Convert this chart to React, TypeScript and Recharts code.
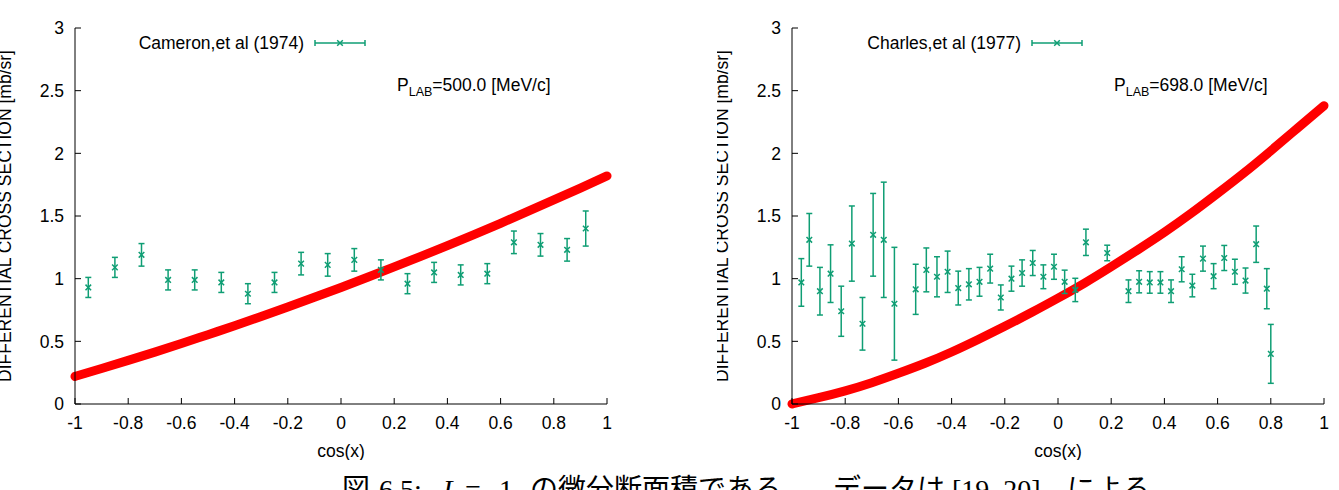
import { ComposedChart, Line, Scatter, ErrorBar, XAxis, YAxis, Legend } from 'recharts';

// axis ticks
const xTicks = [-1, -0.8, -0.6, -0.4, -0.2, 0, 0.2, 0.4, 0.6, 0.8, 1];
const yTicks = [0, 0.5, 1, 1.5, 2, 2.5, 3];

// theory curves at cos(x) = -1, -0.9, ... 1
const curveX = [-1, -0.9, -0.8, -0.7, -0.6, -0.5, -0.4, -0.3, -0.2, -0.1, 0, 0.1, 0.2, 0.3, 0.4, 0.5, 0.6, 0.7, 0.8, 0.9, 1];
const curve500 = [0.22, 0.283, 0.348, 0.414, 0.482, 0.553, 0.624, 0.698, 0.774, 0.851, 0.93, 1.011, 1.094, 1.178, 1.264, 1.352, 1.442, 1.534, 1.628, 1.723, 1.82];
const curve698 = [0.0, 0.05, 0.105, 0.17, 0.245, 0.325, 0.415, 0.515, 0.62, 0.73, 0.845, 0.965, 1.095, 1.23, 1.37, 1.52, 1.68, 1.845, 2.02, 2.2, 2.38];

// Cameron et al (1974), P_LAB = 500 MeV/c
const cameronX = [-0.95, -0.85, -0.75, -0.65, -0.55, -0.45, -0.35, -0.25, -0.15, -0.05, 0.05, 0.15, 0.25, 0.35, 0.45, 0.55, 0.65, 0.75, 0.85, 0.92];
const cameronY = [0.93, 1.09, 1.19, 0.99, 0.99, 0.97, 0.88, 0.97, 1.12, 1.11, 1.15, 1.07, 0.96, 1.05, 1.03, 1.04, 1.29, 1.27, 1.23, 1.4];
const cameronErr = [0.08, 0.08, 0.09, 0.08, 0.08, 0.08, 0.08, 0.08, 0.09, 0.09, 0.09, 0.08, 0.08, 0.08, 0.08, 0.08, 0.09, 0.09, 0.09, 0.14];

// Charles et al (1977), P_LAB = 698 MeV/c
const charlesX = [
  -0.965, -0.935, -0.895, -0.855, -0.815, -0.775, -0.735, -0.695, -0.655, -0.615,
  -0.535, -0.495, -0.455, -0.415, -0.375, -0.335, -0.295, -0.255, -0.215, -0.175,
  -0.135, -0.095, -0.055, -0.015, 0.025, 0.065, 0.105, 0.185, 0.265, 0.305,
  0.345, 0.385, 0.425, 0.465, 0.505, 0.545, 0.585, 0.625, 0.665, 0.705,
  0.745, 0.785, 0.8,
];
const charlesY = [
  0.97, 1.31, 0.9, 1.04, 0.74, 1.28, 0.64, 1.35, 1.31, 0.8,
  0.915, 1.07, 1.015, 1.055, 0.925, 0.955, 0.975, 1.08, 0.85, 1.0,
  1.045, 1.125, 1.015, 1.095, 0.975, 0.91, 1.29, 1.205, 0.9, 0.975,
  0.97, 0.97, 0.9, 1.075, 0.945, 1.16, 1.02, 1.165, 1.055, 0.985,
  1.275, 0.92, 0.4,
];
const charlesErr = [
  0.19, 0.21, 0.19, 0.23, 0.2, 0.3, 0.21, 0.33, 0.46, 0.45,
  0.2, 0.175, 0.16, 0.165, 0.135, 0.125, 0.115, 0.115, 0.1, 0.1,
  0.105, 0.1, 0.095, 0.1, 0.093, 0.093, 0.105, 0.062, 0.09, 0.088,
  0.086, 0.086, 0.09, 0.1, 0.09, 0.1, 0.1, 0.1, 0.1, 0.1,
  0.145, 0.16, 0.235,
];

const FONT = '"Liberation Sans", Arial, sans-serif';
const FS = 17.5;
const GREEN = '#0f9e74';
const RED = '#ff0000';

type Pt = { x: number; y: number; err?: number };

function CrossShape(props: any) {
  const { cx, cy } = props;
  if (cx == null || cy == null) return null;
  const s = 2.8;
  return (
    <path
      d={`M${cx - s},${cy - s}L${cx + s},${cy + s}M${cx - s},${cy + s}L${cx + s},${cy - s}`}
      stroke={GREEN}
      strokeWidth={1.5}
      fill="none"
    />
  );
}

function LegendKey({ label }: { label: string }) {
  return (
    <svg width={380} height={24} style={{ display: 'block', overflow: 'visible' }}>
      <text x={304} y={18} textAnchor="end" fontFamily={FONT} fontSize={FS} fill="#000">
        {label}
      </text>
      <g stroke={GREEN} strokeWidth={1.5}>
        <line x1={315} y1={12} x2={365} y2={12} />
        <line x1={315} y1={9} x2={315} y2={15} />
        <line x1={365} y1={9} x2={365} y2={15} />
      </g>
      <CrossShape cx={340} cy={12} />
    </svg>
  );
}

interface PanelProps {
  left: number;
  points: Pt[];
  curve: Pt[];
  source: string;
  plab: string;
}

function Panel({ left, points, curve, source, plab }: PanelProps) {
  const tickStyle = { fill: '#000', fontSize: FS, fontFamily: FONT };
  return (
    <div style={{ position: 'absolute', left, top: 0, width: 622, height: 460 }}>
      <ComposedChart width={622} height={460} margin={{ top: 28, right: 15, bottom: 0, left: 0 }} style={{ fontFamily: FONT }}>
        <XAxis
          dataKey="x"
          type="number"
          domain={[-1, 1]}
          ticks={xTicks}
          interval={0}
          height={56}
          tickSize={-6}
          tickMargin={19}
          stroke="#000"
          tick={tickStyle}
          label={{ value: 'cos(x)', position: 'insideBottom', offset: 3, fill: '#000', fontSize: FS, fontFamily: FONT }}
        />
        <XAxis
          xAxisId="top"
          orientation="top"
          type="number"
          domain={[-1, 1]}
          ticks={xTicks}
          interval={0}
          height={0}
          tickSize={-6}
          tick={false}
          stroke="#000"
        />
        <YAxis
          type="number"
          domain={[0, 3]}
          ticks={yTicks}
          interval={0}
          width={75}
          tickSize={-6}
          tickMargin={17}
          stroke="#000"
          tick={tickStyle}
          label={{
            value: 'DIFFERENTIAL CROSS SECTION [mb/sr]',
            angle: -90,
            position: 'insideLeft',
            offset: 5,
            fill: '#000',
            fontSize: FS,
            fontFamily: FONT,
            style: { textAnchor: 'middle' },
          }}
        />
        <YAxis
          yAxisId="right"
          orientation="right"
          type="number"
          domain={[0, 3]}
          ticks={yTicks}
          interval={0}
          width={0}
          tickSize={-6}
          tick={false}
          stroke="#000"
        />
        <Legend
          layout="horizontal"
          verticalAlign="middle"
          align="center"
          wrapperStyle={{ left: 0, top: 31, width: 380, height: 24 }}
          content={() => <LegendKey label={source} />}
        />
        <Line
          data={curve}
          dataKey="y"
          type="natural"
          stroke={RED}
          strokeWidth={9}
          strokeLinecap="round"
          dot={false}
          activeDot={false}
          legendType="none"
          isAnimationActive={false}
        />
        <Scatter data={points} dataKey="y" name={source} shape={<CrossShape />} isAnimationActive={false}>
          <ErrorBar dataKey="err" direction="y" width={3} stroke={GREEN} strokeWidth={1.5} isAnimationActive={false} />
        </Scatter>
      </ComposedChart>
      <svg width={622} height={120} style={{ position: 'absolute', left: 0, top: 0, pointerEvents: 'none' }}>
        <text x={397} y={91} fontFamily={FONT} fontSize={FS} fill="#000">
          P
          <tspan fontSize={12.5} dy={5}>LAB</tspan>
          <tspan dy={-5}>{plab}</tspan>
        </text>
      </svg>
    </div>
  );
}

const toPts = (xs: number[], ys: number[], es?: number[]): Pt[] =>
  xs.map((x, i) => (es ? { x, y: ys[i], err: es[i] } : { x, y: ys[i] }));

export default function App() {
  const capFont = '"Liberation Serif", "Noto Sans CJK JP", serif';
  return (
    <div style={{ position: 'relative', width: 1339, height: 490, background: '#fff', overflow: 'hidden' }}>
      <style>{'body{margin:0}'}</style>
      <Panel
        left={0}
        points={toPts(cameronX, cameronY, cameronErr)}
        curve={toPts(curveX, curve500)}
        source="Cameron,et al (1974)"
        plab="=500.0 [MeV/c]"
      />
      <Panel
        left={717}
        points={toPts(charlesX, charlesY, charlesErr)}
        curve={toPts(curveX, curve698)}
        source="Charles,et al (1977)"
        plab="=698.0 [MeV/c]"
      />
      <svg width={1339} height={50} style={{ position: 'absolute', left: 0, top: 440 }}>
        <text y={59} fontFamily={capFont} fontSize={28} fill="#000">
          <tspan x={342}>図</tspan>
          <tspan x={379}>6.5:</tspan>
          <tspan x={443} fontStyle="italic">L</tspan>
          <tspan x={465}>=</tspan>
          <tspan x={499}>1</tspan>
          <tspan x={530}>の微分断面積である．</tspan>
          <tspan x={833}>データは</tspan>
          <tspan x={952}>[19, 20]</tspan>
          <tspan x={1067}>による．</tspan>
        </text>
      </svg>
    </div>
  );
}
